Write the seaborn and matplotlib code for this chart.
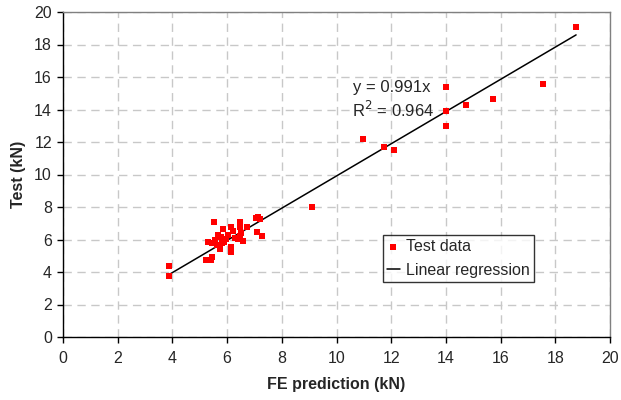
import matplotlib
matplotlib.use("Agg")
import matplotlib.pyplot as plt
import seaborn as sns
import numpy as np
import pandas as pd

fe_pred = [3.89, 3.89, 5.22, 5.41, 5.44, 5.31, 5.44, 5.62, 5.80, 5.90, 5.74, 5.65, 5.77,
           5.52, 5.86, 6.14, 6.04, 6.14, 6.14, 6.20, 6.47, 6.47, 6.41, 6.59, 6.47, 6.72,
           6.52, 7.14, 7.20, 7.05, 7.09, 7.27, 5.95, 6.30, 5.55,
           9.11, 10.98, 11.74, 12.11, 14.02, 14.02, 14.02, 14.73, 15.73, 17.56, 18.76]
test = [4.39, 3.77, 4.74, 4.74, 4.94, 5.87, 5.77, 5.66, 5.77, 5.85, 5.40, 6.28, 6.14,
        7.06, 6.63, 6.75, 6.28, 5.52, 5.21, 6.50, 7.10, 6.79, 6.01, 5.93, 6.22, 6.79,
        6.42, 7.40, 7.24, 7.30, 6.48, 6.23, 6.05, 6.10, 5.95,
        7.98, 12.20, 11.67, 11.50, 15.38, 13.90, 12.98, 14.28, 14.63, 15.57, 19.06]
slope = 0.991
r2 = 0.964
x_ticks = list(range(0, 21, 2))
y_ticks = list(range(0, 21, 2))

df = pd.DataFrame({"fe": fe_pred, "test": test})

sns.set_style("white")
plt.rcParams['font.family'] = ['Liberation Sans', 'DejaVu Sans']

fig = plt.figure(figsize=(6.21, 4.0), dpi=100)
ax = fig.add_axes([63/621, 63/400, 547/621, 325/400])

sns.scatterplot(data=df, x="fe", y="test", marker="s", color="#ff0000", s=22,
                linewidth=0, ax=ax, label="Test data", zorder=3)
xl = np.array([min(fe_pred), max(fe_pred)])
sns.lineplot(x=xl, y=slope * xl, color="black", linewidth=1.1, ax=ax,
             label="Linear regression", zorder=2)

ax.set_xlim(0, 20)
ax.set_ylim(0, 20)
ax.set_xticks(x_ticks)
ax.set_yticks(y_ticks)
ax.grid(True, color="#c8c8c8", linestyle=(0, (6, 4)), linewidth=1.0)
ax.set_axisbelow(True)
for side in ["top", "right"]:
    ax.spines[side].set_color("#808080")
    ax.spines[side].set_linewidth(1.0)
for side in ["left", "bottom"]:
    ax.spines[side].set_color("black")
    ax.spines[side].set_linewidth(1.0)
ax.tick_params(axis="both", direction="out", length=4, width=1, labelsize=11.5,
               color="black", bottom=True, left=True)
ax.tick_params(axis="y", pad=4)
ax.tick_params(axis="x", pad=6)

ax.set_xlabel("FE prediction (kN)", fontsize=11.5, fontweight="bold", labelpad=8)
ax.set_ylabel("Test (kN)", fontsize=11.5, fontweight="bold", labelpad=6)

ax.text(10.6, 15.38, f"y = {slope}x", fontsize=12, va="center", ha="left")
ax.text(10.55, 13.97, f"R$^2$ = {r2}", fontsize=12, va="center", ha="left")

leg = ax.legend(loc="upper left", bbox_to_anchor=(0.585, 0.314), frameon=True,
                fancybox=False, edgecolor="black", fontsize=11.5, borderpad=0.25,
                handlelength=0.8, handletextpad=0.4, labelspacing=0.55,
                borderaxespad=0, markerscale=0.8)
leg.get_frame().set_linewidth(1.0)

fig.savefig("out.png", dpi=100)
